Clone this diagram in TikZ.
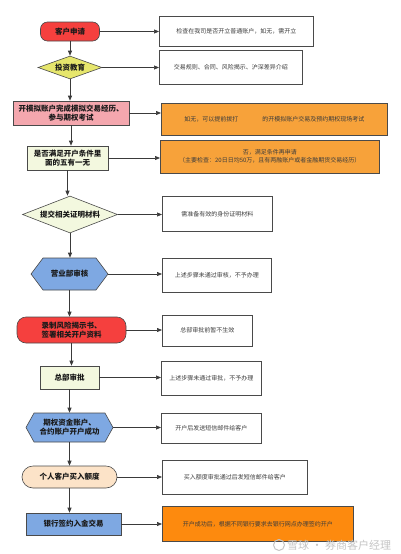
\documentclass[tikz,border=0pt]{standalone}
\usepackage{fontspec}
\setmainfont{Noto Sans CJK SC}
\usetikzlibrary{arrows.meta,shapes.geometric,shapes.symbols}
\definecolor{ink}{HTML}{1A1A1A}
\definecolor{inksoft}{HTML}{3C3C3C}
\definecolor{edgegray}{HTML}{4A4A4A}
\definecolor{linegray}{HTML}{3A3A3A}
\definecolor{appred}{HTML}{F5403E}
\definecolor{eduyellow}{HTML}{E6E66C}
\definecolor{simpink}{HTML}{F4A7AE}
\definecolor{paleleaf}{HTML}{F3F8DF}
\definecolor{stepblue}{HTML}{7EA8E2}
\definecolor{peach}{HTML}{FCE3C8}
\definecolor{softorange}{HTML}{F7A23A}
\definecolor{hotorange}{HTML}{FD8A0E}
\definecolor{markgray}{HTML}{C4C4C4}

\begin{document}
\begin{tikzpicture}[
  x=1pt, y=-1pt,
  font=\fontsize{6}{7.5}\selectfont,
  >={Triangle[length=5pt,width=4pt]},
  stage/.style={draw=edgegray, line width=0.6pt, text=ink, align=center, inner sep=1pt,
    font=\fontsize{7.5}{9}\selectfont\bfseries},
  hexstage/.style={stage, signal, signal to=west and east, fill=stepblue},
  note/.style={draw=edgegray, line width=0.6pt, fill=white, text=inksoft, align=center,
    anchor=west, inner sep=1pt},
  flow/.style={->, draw=linegray, line width=0.7pt}
]
\useasboundingbox (0,0) rectangle (400,554);

% main column
\node[stage, rounded corners=7pt, fill=appred, minimum width=59pt, minimum height=19pt] (apply) at (70,31.5) {客户申请};
\node[stage, diamond, aspect=2.8, fill=eduyellow, minimum width=64pt, minimum height=23pt] (edu) at (70,67.5) {投资教育};
\node[stage, fill=simpink, minimum width=116pt, minimum height=24pt] (sim) at (71,113) {开模拟账户完成模拟交易经历、\\参与期权考试};
\node[stage, fill=paleleaf, minimum width=81pt, minimum height=24pt] (cond) at (67.5,158) {是否满足开户条件里\\面的五有一无};
\node[stage, diamond, aspect=2.57, fill=paleleaf, minimum width=95pt, minimum height=37pt] (docs) at (70,214.5) {提交相关证明材料};
\node[hexstage, signal pointer angle=106, minimum width=77pt, minimum height=32pt] (branch) at (69.5,274) {营业部审核};
\node[stage, rounded corners=9pt, fill=appred, minimum width=109pt, minimum height=26pt] (risk) at (71.5,330) {录制风险揭示书、\\签署相关开户资料};
\node[stage, fill=paleleaf, minimum width=59pt, minimum height=23pt] (hq) at (69.5,377.5) {总部审批};
\node[hexstage, signal pointer angle=122, minimum width=87pt, minimum height=29pt] (acct) at (69.5,427.5) {期权资金账户、\\合约账户开户成功};
\node[stage, rounded corners=11pt, fill=peach, minimum width=95pt, minimum height=22pt] (quota) at (69.5,477) {个人客户买入额度};
\node[stage, fill=stepblue, minimum width=95pt, minimum height=22pt] (bank) at (73.5,524) {银行签约入金交易};

% side notes
\node[note, minimum width=154pt, minimum height=30pt] (applynote) at (159,31) {检查在我司是否开立普通账户，如无，需开立};
\node[note, minimum width=143pt, minimum height=34pt] (edunote) at (159,67) {交易规则、合同、风险揭示、沪深差异介绍};
\node[note, fill=softorange, minimum width=226pt, minimum height=32pt] (simnote) at (161,119) {如无，可以提前拨打\hspace{24pt}的开模拟账户交易及预约期权现场考试};
\node[note, fill=softorange, minimum width=219pt, minimum height=33pt] (condnote) at (160,156.5) {否，满足条件再申请\\（主要检查：20日日均50万，且有两融账户或者金融期货交易经历）};
\node[note, minimum width=110pt, minimum height=35pt] (docsnote) at (162,214) {需准备有效的身份证明材料};
\node[note, minimum width=109pt, minimum height=34pt] (branchnote) at (162,275) {上述步骤未通过审核，不予办理};
\node[note, minimum width=90pt, minimum height=31pt] (risknote) at (162,330.5) {总部审批前暂不生效};
\node[note, minimum width=100pt, minimum height=34pt] (hqnote) at (161,378) {上述步骤未通过审批，不予办理};
\node[note, minimum width=100pt, minimum height=30pt] (acctnote) at (161,428) {开户后发送短信邮件给客户};
\node[note, minimum width=145pt, minimum height=34pt] (quotanote) at (162,477) {买入额度审批通过后发短信邮件给客户};
\node[note, fill=hotorange, minimum width=191pt, minimum height=35pt] (banknote) at (162,524) {开户成功后，根据不同银行要求去银行网点办理签约开户};

% main flow
\draw[flow] (apply.south) -- (apply.south |- edu.north);
\draw[flow] (edu.south) -- (edu.south |- sim.north);
\draw[flow] (sim.south) -- (sim.south |- cond.north);
\draw[flow] (cond.south) -- (cond.south |- docs.north);
\draw[flow] (docs.south) -- (docs.south |- branch.north);
\draw[flow] (branch.south) -- (branch.south |- risk.north);
\draw[flow] (risk.south) -- (risk.south |- hq.north);
\draw[flow] (hq.south) -- (hq.south |- acct.north);
\draw[flow] (acct.south) -- (acct.south |- quota.north);
\draw[flow] (quota.south) -- (quota.south |- bank.north);

% side arrows
\draw[flow] (apply.east) -- (apply.east -| applynote.west);
\draw[flow] (edu.east) -- (edu.east -| edunote.west);
\draw[flow] (sim.east) -- (sim.east -| simnote.west);
\draw[flow] (cond.east) -- (cond.east -| condnote.west);
\draw[flow] (docs.east) -- (docs.east -| docsnote.west);
\draw[flow] (branch.east) -- (branch.east -| branchnote.west);
\draw[flow] (risk.east) -- (risk.east -| risknote.west);
\draw[flow] (hq.east) -- (hq.east -| hqnote.west);
\draw[flow] (acct.east) -- (acct.east -| acctnote.west);
\draw[flow] (quota.east) -- (quota.east -| quotanote.west);
\draw[flow] (bank.east) -- (bank.east -| banknote.west);

% watermark
\node[draw=markgray, line width=1pt, circle, minimum size=11pt, inner sep=0pt] (wmlogo) at (279,545) {};
\node[text=markgray, font=\fontsize{11}{12}\selectfont, anchor=west, inner sep=0pt] (wmtext) at (287,545) {雪球 · 券商客户经理};
\end{tikzpicture}
\end{document}
